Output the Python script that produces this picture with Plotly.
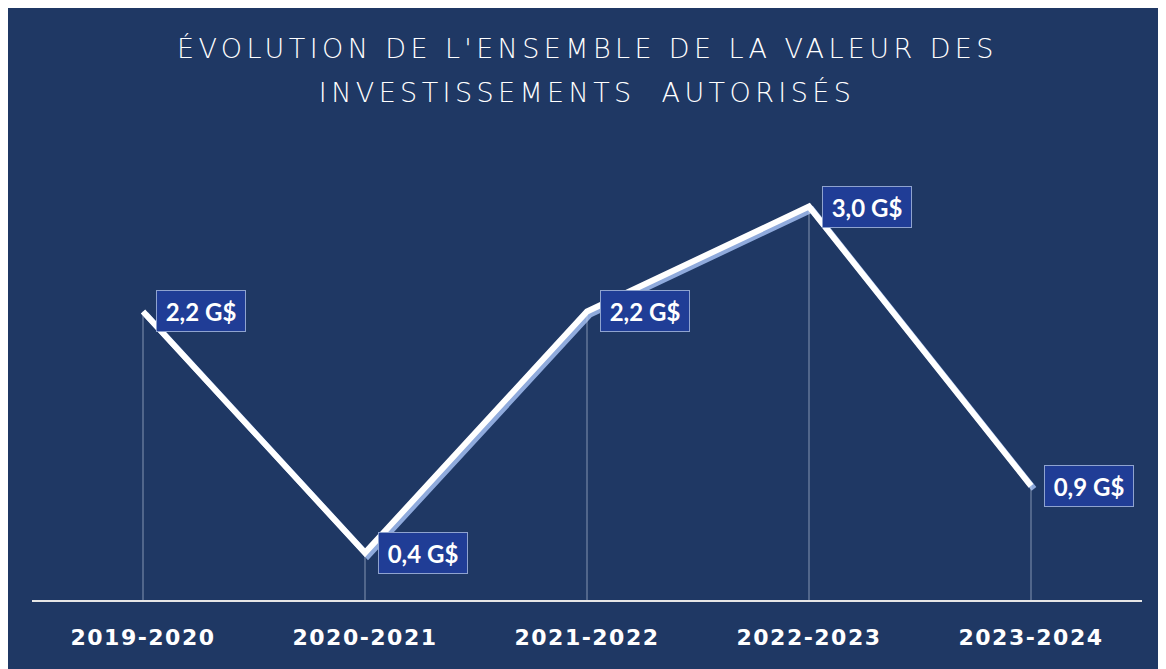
import json
import plotly.graph_objects as go

# ---- data ----
categories = ["2019-2020", "2020-2021", "2021-2022", "2022-2023", "2023-2024"]
values = [2.2, 0.36, 2.2, 3.0, 0.87]          # milliards de dollars (G$)
unit = "G$"
title_lines = ["ÉVOLUTION DE L'ENSEMBLE DE LA VALEUR DES", "INVESTISSEMENTS  AUTORISÉS"]

labels = [f"{v:.1f}".replace(".", ",") + " " + unit for v in values]

# ---- style ----
BG = "#1F3864"
LABEL_BG = "#203D96"
LABEL_BORDER = "#8FA3CF"
SHADOW = "#8FAADC"

# page has an 8px body margin -> figure fits exactly in the 1166x669 window
W, H = 1158, 661
ML, MR, MT, MB = 24, 24, 133, 69
PW = W - ML - MR
PH = H - MT - MB
Y_TOP = 3.5

# shadow offset in pixels -> data units via the axis ranges
dx_px, dy_px = 3, 3
ex = dx_px * 5 / PW
ey = dy_px * Y_TOP / PH

fig = go.Figure()

# shadow line (main axes, slightly shifted ranges)
fig.add_trace(go.Scatter(
    x=categories, y=values, mode="lines",
    line=dict(color=SHADOW, width=6),
    xaxis="x", yaxis="y", hoverinfo="skip", showlegend=False,
))

# drop lines from each point to the axis
fig.add_trace(go.Scatter(
    x=categories, y=values, mode="markers",
    marker=dict(size=1, color="rgba(0,0,0,0)"),
    error_y=dict(type="data", symmetric=False, array=[0] * len(values),
                 arrayminus=values, color="rgba(200,210,230,0.6)",
                 thickness=1, width=0),
    xaxis="x2", yaxis="y2", hoverinfo="skip", showlegend=False,
))

# main white line
fig.add_trace(go.Scatter(
    x=categories, y=values, mode="lines",
    line=dict(color="white", width=6),
    xaxis="x2", yaxis="y2", showlegend=False,
))

annotations = []
for c, v, t in zip(categories, values, labels):
    annotations.append(dict(
        x=c, y=v, xref="x2", yref="y2", text=t, showarrow=False,
        xanchor="left", yanchor="middle", xshift=13,
        font=dict(family="Lato", size=24, color="white", weight="bold"),
        bgcolor=LABEL_BG, bordercolor=LABEL_BORDER, borderwidth=1,
        borderpad=3, width=82, height=34, align="center",
    ))

title_y_px = [40, 85]   # figure pixels
for line, ypx in zip(title_lines, title_y_px):
    annotations.append(dict(
        x=0.5, y=(PH + MT - ypx) / PH, xref="paper", yref="paper",
        text=line, showarrow=False, xanchor="center", yanchor="middle",
        font=dict(family="DejaVu Sans", size=27, color="white", weight=300),
    ))

fig.update_layout(
    width=W, height=H, autosize=False,
    margin=dict(l=ML, r=MR, t=MT, b=MB, pad=0),
    paper_bgcolor=BG, plot_bgcolor="rgba(0,0,0,0)",
    xaxis=dict(type="category", range=[-0.5 - ex, 4.5 - ex], visible=False,
               fixedrange=True),
    yaxis=dict(range=[ey, Y_TOP + ey], visible=False, fixedrange=True),
    xaxis2=dict(type="category", overlaying="x", anchor="y2",
                range=[-0.5, 4.5], showline=True, linecolor="#E6E6E6",
                linewidth=2, showgrid=False, zeroline=False, ticks="",
                ticklabelstandoff=17,
                tickfont=dict(family="DejaVu Sans", size=22, color="white",
                              weight="bold"),
                fixedrange=True),
    yaxis2=dict(overlaying="y", range=[0, Y_TOP], visible=False,
                fixedrange=True),
    annotations=annotations,
)

# letter spacing for the title and the category labels (as in the reference)
post = """
var gd = document.getElementById('{plot_id}');
var titles = %s;
gd.querySelectorAll('text.annotation-text').forEach(function (t) {
  if (titles.indexOf(t.textContent) >= 0) { t.style.letterSpacing = '4.4px'; }
});
gd.querySelectorAll('g.xtick text, g.x2tick text').forEach(function (t) {
  t.style.letterSpacing = '1.5px';
});
""" % json.dumps(title_lines)

fig.write_html("out.html", post_script=post)
